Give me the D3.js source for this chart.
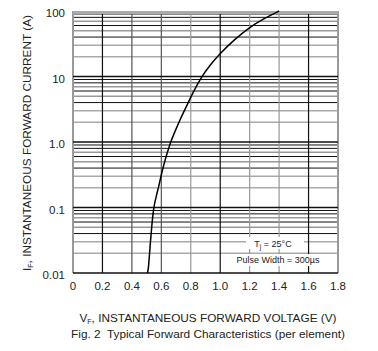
<!DOCTYPE html>
<html>
<head>
<meta charset="utf-8">
<script src="https://cdn.jsdelivr.net/npm/d3@7"></script>
<style>
  body { margin: 0; background: #fff; }
  text { font-family: "Liberation Sans", Arial, sans-serif; fill: #222; white-space: pre; }
</style>
</head>
<body>
<div id="chart"></div>
<script>
// curve
const voltage = [0.505, 0.512, 0.523, 0.530, 0.546, 0.569, 0.585, 0.613, 0.662, 0.693,
                 0.727, 0.783, 0.817, 0.874, 0.931, 0.999, 1.089, 1.202, 1.293, 1.400];
const current = [0.01, 0.011, 0.025, 0.038, 0.1, 0.16, 0.22, 0.435, 1.0, 1.45,
                 2.2, 4.0, 5.8, 10, 15, 22.4, 35.6, 57, 76, 100];

const xTicks = [0, 0.2, 0.4, 0.6, 0.8, 1.0, 1.2, 1.4, 1.6, 1.8];
const xTickLabels = ['0', '0.2', '0.4', '0.6', '0.8', '1.0', '1.2', '1.4', '1.6', '1.8'];
const yTicks = [0.01, 0.1, 1, 10, 100];
const yTickLabels = ['0.01', '0.1', '1.0', '10', '100'];
const decades = [0.01, 0.1, 1, 10];

const chartWidth = 378;
const chartHeight = 351;
const plotLeft = 73, plotRight = 338, plotTop = 11, plotBottom = 273;

const xScale = d3.scaleLinear().domain([0, 1.8]).range([plotLeft, plotRight]);
const yScale = d3.scaleLog().domain([0.01, 100]).range([plotBottom, plotTop]);

const svg = d3.select('#chart')
    .append('svg')
    .attr('width', chartWidth)
    .attr('height', chartHeight);

// horizontal grid: minor lines first, decades on top
const minor = [];
decades.forEach(d => d3.range(2, 10).forEach(k => minor.push({v: d * k, k: k})));
const minorColor = {2: '#aaa', 3: '#aaa', 4: '#111', 5: '#999', 6: '#111', 7: '#999', 8: '#111', 9: '#111'};

svg.append('g').selectAll('line')
    .data(minor)
    .enter()
    .append('line')
    .attr('x1', plotLeft).attr('x2', plotRight)
    .attr('y1', d => yScale(d.v)).attr('y2', d => yScale(d.v))
    .attr('stroke', d => minorColor[d.k])
    .attr('stroke-width', d => minorColor[d.k] === '#111' ? 1 : 1.5);

// vertical grid
const vColor = ['#999', '#111', '#555', '#555', '#999', '#111', '#999', '#999', '#111', '#999'];
svg.append('g').selectAll('line')
    .data(xTicks)
    .enter()
    .append('line')
    .attr('x1', d => xScale(d)).attr('x2', d => xScale(d))
    .attr('y1', plotTop).attr('y2', plotBottom)
    .attr('stroke', (d, i) => vColor[i])
    .attr('stroke-width', (d, i) => (i === 0 || i === xTicks.length - 1) ? 2 : 1.2);

svg.append('g').selectAll('line')
    .data(decades)
    .enter()
    .append('line')
    .attr('x1', plotLeft).attr('x2', plotRight)
    .attr('y1', d => yScale(d)).attr('y2', d => yScale(d))
    .attr('stroke', '#111')
    .attr('stroke-width', 1.5);

// top edge is a thick grey band
svg.append('rect')
    .attr('x', plotLeft).attr('y', yScale(100))
    .attr('width', plotRight - plotLeft).attr('height', 3)
    .attr('fill', '#aaa');

// curve
const line = d3.line()
    .x(d => xScale(d[0]))
    .y(d => yScale(d[1]))
    .curve(d3.curveBasis);

svg.append('path')
    .datum(d3.zip(voltage, current))
    .attr('d', line)
    .attr('fill', 'none')
    .attr('stroke', '#000')
    .attr('stroke-width', 1.5);

// tick labels
svg.append('g').selectAll('text')
    .data(xTicks)
    .enter()
    .append('text')
    .text((d, i) => xTickLabels[i])
    .attr('x', d => xScale(d))
    .attr('y', 290)
    .attr('text-anchor', 'middle')
    .attr('font-size', 11.5);

svg.append('g').selectAll('text')
    .data(yTicks)
    .enter()
    .append('text')
    .text((d, i) => yTickLabels[i])
    .attr('x', 65)
    .attr('y', d => yScale(d) + 6)
    .attr('text-anchor', 'end')
    .attr('font-size', 11.5);

// condition boxes
svg.append('rect').attr('x', 246).attr('y', 237).attr('width', 58).attr('height', 12).attr('fill', '#fff');
svg.append('rect').attr('x', 231).attr('y', 254).attr('width', 97).attr('height', 12).attr('fill', '#fff');

const tj = svg.append('text').attr('x', 273).attr('y', 246.5).attr('text-anchor', 'middle').attr('font-size', 9);
tj.append('tspan').text('T');
tj.append('tspan').text('j').attr('font-size', 6.5).attr('dy', 2);
tj.append('tspan').text(' = 25°C').attr('dy', -2);

svg.append('text')
    .text('Pulse Width = 300µs')
    .attr('x', 278).attr('y', 263)
    .attr('text-anchor', 'middle')
    .attr('font-size', 9);

// axis titles
const xt = svg.append('text').attr('x', 208).attr('y', 322).attr('text-anchor', 'middle').attr('font-size', 11.8);
xt.append('tspan').text('V');
xt.append('tspan').text('F').attr('font-size', 7).attr('dy', 2);
xt.append('tspan').text(', INSTANTANEOUS FORWARD VOLTAGE (V)').attr('dy', -2);

svg.append('text')
    .text('Fig. 2  Typical Forward Characteristics (per element)')
    .attr('x', 208).attr('y', 338)
    .attr('text-anchor', 'middle')
    .attr('font-size', 11.8);

const yt = svg.append('text')
    .attr('transform', 'translate(31,143) rotate(-90)')
    .attr('text-anchor', 'middle')
    .attr('font-size', 11.8);
yt.append('tspan').text('I');
yt.append('tspan').text('F').attr('font-size', 7).attr('dy', 2);
yt.append('tspan').text(', INSTANTANEOUS FORWARD CURRENT (A)').attr('dy', -2);
</script>
</body>
</html>
